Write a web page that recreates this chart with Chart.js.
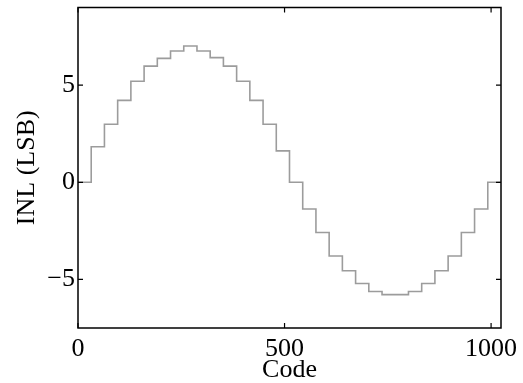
<!DOCTYPE html>
<html><head><meta charset="utf-8">
<script src="https://cdn.jsdelivr.net/npm/chart.js@4"></script>
<style>html,body{margin:0;padding:0;background:#fff}#wrap{width:523px;height:383px;position:relative}</style>
</head><body><div id="wrap"><canvas id="c"></canvas></div>
<script>
// Step start codes (last entry closes the final step)
const codes = [0,32,64,96,128,160,192,224,256,288,320,352,384,416,448,480,512,544,576,608,640,672,704,736,768,800,832,864,896,928,960,992,1024];
// INL value (LSB) held from each code until the next
const inl = [0,1.83,2.99,4.22,5.2,5.98,6.38,6.76,7.02,6.76,6.42,5.98,5.2,4.22,2.99,1.62,0,-1.37,-2.58,-3.79,-4.55,-5.21,-5.62,-5.78,-5.78,-5.62,-5.21,-4.55,-3.79,-2.58,-1.37,0,0];
const xTicks = [0,500,1000];
const yTicks = [-5,0,5];
const xTitle = 'Code';
const yTitle = 'INL (LSB)';

const points = codes.map((c,i)=>({x:c,y:inl[i]}));
const serif = 'Liberation Serif, Times New Roman, serif';

const frame = {
  id:'frame',
  afterDatasetsDraw(chart){
    const {ctx, chartArea:a, scales:{x,y}} = chart;
    ctx.save();
    ctx.strokeStyle='#000'; ctx.lineWidth=1.5;
    ctx.strokeRect(a.left,a.top,a.right-a.left,a.bottom-a.top);
    ctx.lineWidth=1.2;
    const L=5;
    ctx.beginPath();
    xTicks.forEach(v=>{const p=x.getPixelForValue(v);
      ctx.moveTo(p,a.bottom);ctx.lineTo(p,a.bottom-L);
      ctx.moveTo(p,a.top);ctx.lineTo(p,a.top+L);});
    yTicks.forEach(v=>{const p=y.getPixelForValue(v);
      ctx.moveTo(a.left,p);ctx.lineTo(a.left+L,p);
      ctx.moveTo(a.right,p);ctx.lineTo(a.right-L,p);});
    ctx.stroke();
    ctx.restore();
  }
};

new Chart(document.getElementById('c'),{
  type:'line',
  data:{datasets:[{data:points,stepped:true,borderColor:'#9c9c9c',borderWidth:1.6,pointRadius:0,fill:false}]},
  options:{
    responsive:true,maintainAspectRatio:false,animation:false,
    plugins:{legend:{display:false},tooltip:{enabled:false}},
    layout:{padding:{top:7.5,right:22,left:0,bottom:0}},
    scales:{
      x:{type:'linear',min:0,max:1024,
        afterBuildTicks:s=>{s.ticks=xTicks.map(v=>({value:v}));},
        afterFit:s=>{s.height=55;s.paddingLeft=0;s.paddingRight=0;},
        grid:{display:false,drawTicks:false},border:{display:false},
        ticks:{padding:6,color:'#000',font:{family:serif,size:26},maxRotation:0,autoSkip:false,callback:v=>String(v)},
        title:{display:true,text:xTitle,color:'#000',font:{family:serif,size:26,lineHeight:1},padding:{top:0,bottom:0}}
      },
      y:{type:'linear',min:-7.5,max:9,
        afterBuildTicks:s=>{s.ticks=yTicks.map(v=>({value:v}));},
        afterFit:s=>{s.width=78;s.paddingTop=0;s.paddingBottom=0;},
        grid:{display:false,drawTicks:false},border:{display:false},
        ticks:{padding:3,color:'#000',font:{family:serif,size:26},callback:v=>String(v).replace('-','\u2212')},
        title:{display:true,text:yTitle,color:'#000',font:{family:serif,size:26,lineHeight:1},padding:{top:14,bottom:0}}
      }
    }
  },
  plugins:[frame]
});
</script></body></html>
